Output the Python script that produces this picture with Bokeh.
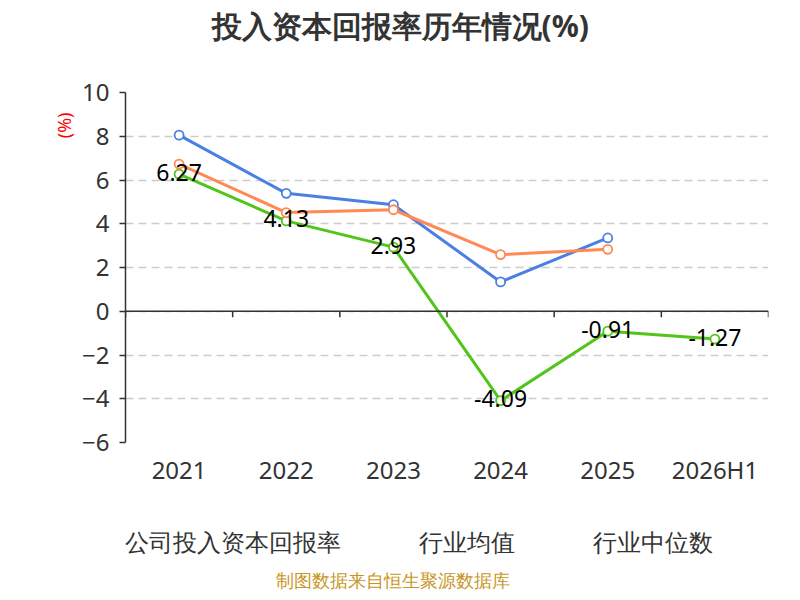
from bokeh.plotting import figure
from bokeh.models import (ColumnDataSource, FixedTicker, Legend, LegendItem,
                          Title, Range1d, LabelSet, Span, Spacer)
from bokeh.layouts import row, column
from bokeh.embed import file_html
from bokeh.resources import INLINE
from bokeh.core.properties import value

categories = ["2021", "2022", "2023", "2024", "2025", "2026H1"]
company = [6.27, 4.13, 2.93, -4.09, -0.91, -1.27]
industry_avg = [8.05, 5.39, 4.87, 1.34, 3.35]
industry_med = [6.73, 4.51, 4.64, 2.59, 2.83]
company_labels = ["6.27", "4.13", "2.93", "-4.09", "-0.91", "-1.27"]
series_names = ["公司投入资本回报率", "行业均值", "行业中位数"]
y_ticks = [-6, -4, -2, 0, 2, 4, 6, 8, 10]

FONT = "Noto Sans"
GREEN = "#52c41a"
BLUE = "#4a7fe3"
ORANGE = "#ff8a55"
COLORS = [GREEN, BLUE, ORANGE]

xs = [i + 0.5 for i in range(len(categories))]
Y0, Y1 = -6, 10
FRAME_W, FRAME_H = 643, 350

p = figure(frame_width=FRAME_W, frame_height=FRAME_H, output_backend="svg", toolbar_location=None,
           x_range=Range1d(0, len(categories)), y_range=Range1d(Y0, Y1))
p.outline_line_color = None
p.title.visible = False

# spacer between title and frame, then the main title
p.add_layout(Title(text=" ", text_font=FONT, text_font_size="24px", standoff=10), "above")
p.add_layout(Title(text="投入资本回报率历年情况(%)", align="left", offset=86, text_font=FONT,
                   text_font_size="30px", text_font_style="bold", text_color="#333333",
                   standoff=4), "above")

# y axis
yaxis = p.yaxis[0]
yaxis.ticker = FixedTicker(ticks=y_ticks)
yaxis.axis_line_color = "#333333"
yaxis.axis_line_width = 1.5
yaxis.major_tick_line_color = "#333333"
yaxis.major_tick_line_width = 1.5
yaxis.major_tick_in = 0
yaxis.major_tick_out = 6
yaxis.minor_tick_line_color = None
yaxis.major_label_text_font = FONT
yaxis.major_label_text_font_size = "24px"
yaxis.major_label_text_color = "#333333"
yaxis.major_label_standoff = 10

ylab = Title(text="(%)", align="right", offset=20, text_font=FONT, text_font_size="18px",
             text_color="#ff0000", text_font_style="normal", standoff=8)
p.add_layout(ylab, "left")

# bottom category axis (labels only)
xaxis = p.xaxis[0]
xaxis.ticker = FixedTicker(ticks=xs)
xaxis.major_label_overrides = {x: c for x, c in zip(xs, categories)}
xaxis.axis_line_color = None
xaxis.major_tick_line_color = None
xaxis.major_tick_out = 0
xaxis.major_tick_in = 0
xaxis.minor_tick_line_color = None
xaxis.minor_tick_out = 0
xaxis.major_label_text_font = FONT
xaxis.major_label_text_font_size = "24px"
xaxis.major_label_text_color = "#333333"
xaxis.major_label_standoff = 10

# grid
p.xgrid.visible = False
p.ygrid.ticker = FixedTicker(ticks=y_ticks)
p.ygrid.grid_line_color = "#cccccc"
p.ygrid.grid_line_dash = "8 5"
p.ygrid.grid_line_width = 1.5

# zero line with category-boundary ticks
zero = Span(location=0, dimension="width", line_color="#333333", line_width=1.5)
p.add_layout(zero)
bounds = list(range(len(categories) + 1))
tick_len = 6 * (Y1 - Y0) / FRAME_H
p.segment(x0=bounds, y0=[0] * len(bounds), x1=bounds, y1=[-tick_len] * len(bounds),
          line_color="#333333", line_width=1.5)

src_c = ColumnDataSource(dict(x=xs, y=company, label=company_labels))
src_a = ColumnDataSource(dict(x=xs[:len(industry_avg)], y=industry_avg))
src_m = ColumnDataSource(dict(x=xs[:len(industry_med)], y=industry_med))

for src, col in zip([src_c, src_a, src_m], COLORS):
    p.line("x", "y", source=src, line_color=col, line_width=3)
    p.scatter("x", "y", source=src, size=9, fill_color="white", line_color=col, line_width=1.8)

labels = LabelSet(x="x", y="y", text="label", source=src_c, text_align="center",
                  text_baseline="middle", y_offset=2, text_font=value(FONT),
                  text_font_size="23px", text_color="#000000")
p.add_layout(labels)

# legend + footer in a separate strip below the chart
pl = figure(frame_width=774, frame_height=70, output_backend="svg", toolbar_location=None,
            x_range=Range1d(0, 1), y_range=Range1d(0, 1),
            x_axis_location=None, y_axis_location=None)
pl.outline_line_color = None
pl.title.visible = False
pl.grid.visible = False

items = []
for col, name in zip(COLORS, series_names):
    empty = ColumnDataSource(dict(x=[], y=[]))
    l = pl.line("x", "y", source=empty, line_color=col, line_width=3)
    s = pl.scatter("x", "y", source=empty, size=9, fill_color="white", line_color=col, line_width=1.8)
    items.append(LegendItem(label=name, renderers=[l, s]))

legend = Legend(items=items, orientation="horizontal", location=(62, 1),
                label_text_font=FONT, label_text_font_size="24px", label_text_color="#333333",
                glyph_width=40, glyph_height=40, spacing=20, border_line_color=None,
                background_fill_alpha=0, margin=0, padding=0, label_standoff=18)
pl.add_layout(legend)

footer = Title(text="制图数据来自恒生聚源数据库", align="left", offset=270, text_font=FONT,
               text_font_size="18px", text_font_style="normal", text_color="#c8961e",
               standoff=4)
pl.add_layout(footer, "below")

layout = column(row(Spacer(width=45, height=10), p), pl)
open("out.html", "w").write(file_html(layout, INLINE))
